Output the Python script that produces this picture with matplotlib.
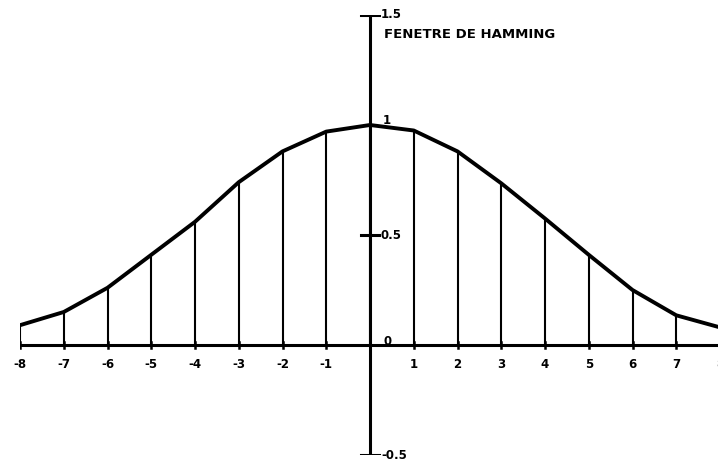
import numpy as np
import matplotlib
matplotlib.use("Agg")
import matplotlib.pyplot as plt

# Hamming window samples, n = -8 .. 8
n = [-8, -7, -6, -5, -4, -3, -2, -1, 0, 1, 2, 3, 4, 5, 6, 7, 8]
w = [0.09, 0.15, 0.26, 0.41, 0.56, 0.74, 0.88, 0.97, 1.0,
     0.975, 0.88, 0.735, 0.575, 0.41, 0.25, 0.135, 0.08]

y_ticks = [-0.5, 0.5, 1.5]
y_labels = {1.5: "1.5", 1.0: "1", 0.5: "0.5", 0.0: "0", -0.5: "-0.5"}
x_labels = [k for k in n if k != 0]
title = "FENETRE DE HAMMING"

fig = plt.figure(figsize=(7.18, 4.61), dpi=100)
ax = fig.add_axes([20 / 718, 6 / 461, 700 / 718, 440 / 461])
ax.set_xlim(-8, 8)
ax.set_ylim(-0.5, 1.5)
ax.axis("off")

# axes drawn through the origin
ax.plot([-8, 8], [0, 0], color="black", lw=2.2, solid_capstyle="butt")
ax.plot([0, 0], [-0.5, 1.5], color="black", lw=2.2, solid_capstyle="butt")

# y tick marks (short horizontal bars)
for yt in y_ticks:
    ax.plot([-0.2, 0.2], [yt, yt], color="black", lw=2.2)

# x tick marks
for k in n:
    ax.plot([k, k], [-0.015, 0.015], color="black", lw=1.8)

# stems and envelope
ax.vlines(n, 0, w, color="black", lw=1.5)
ax.plot(n, w, color="black", lw=2.8, solid_joinstyle="round")

font = dict(fontsize=8.5, fontweight="bold", family="DejaVu Sans")
for k in x_labels:
    ax.text(k, -0.058, str(k), ha="center", va="top", **font)

offsets = {1.5: (0.25, 0.0), 1.0: (0.3, 0.02), 0.5: (0.25, 0.0),
           0.0: (0.3, 0.015), -0.5: (0.25, 0.0)}
for yv, lab in y_labels.items():
    dx, dy = offsets[yv]
    ax.text(dx, yv + dy, lab, ha="left", va="center", **font)

ax.text(0.32, 1.41, title, ha="left", va="center", fontsize=9.5,
        fontweight="bold", family="DejaVu Sans")

fig.savefig("out.png", dpi=100, facecolor="white")
